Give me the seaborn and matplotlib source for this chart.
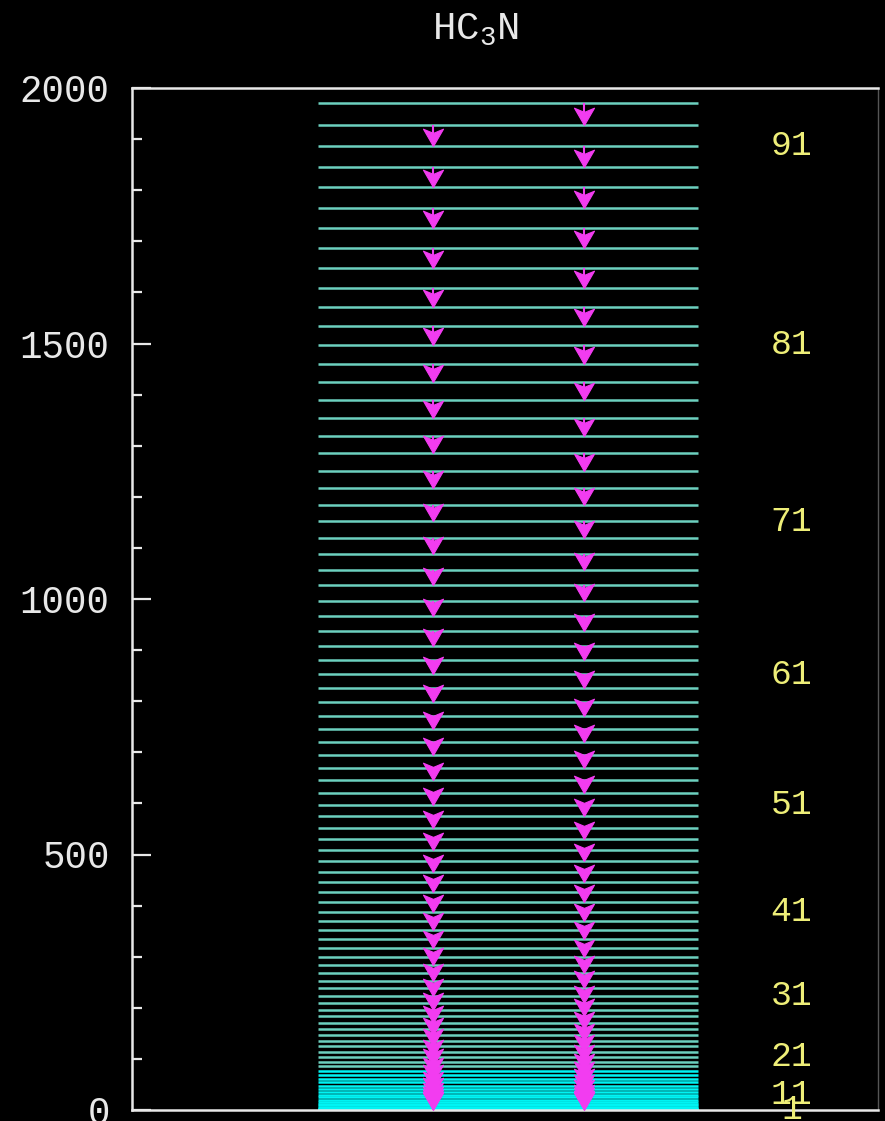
import numpy as np
import matplotlib
matplotlib.use("Agg")
import matplotlib.pyplot as plt
from matplotlib.path import Path
from matplotlib.ticker import MultipleLocator
import seaborn as sns

# Rotational ladder of HC3N: level energies for J = 0 .. 93
J_levels = list(range(0, 94))
E_levels = [
    0.00, 0.45, 1.35, 2.70, 4.51, 6.76, 9.47, 12.62, 16.23, 20.29,
    24.79, 29.75, 35.16, 41.02, 47.33, 54.10, 61.31, 68.97, 77.09, 85.65,
    94.67, 104.13, 114.05, 124.42, 135.24, 146.51, 158.23, 170.40, 183.02, 196.10,
    209.62, 223.60, 238.02, 252.90, 268.23, 284.00, 300.23, 316.91, 334.04, 351.62,
    369.66, 388.14, 407.07, 426.46, 446.29, 466.58, 487.31, 508.50, 530.14, 552.23,
    574.77, 597.76, 621.20, 645.09, 669.44, 694.23, 719.48, 745.17, 771.32, 797.92,
    824.96, 852.46, 880.41, 908.81, 937.66, 966.97, 996.72, 1026.92, 1057.58, 1088.68,
    1120.24, 1152.24, 1184.70, 1217.61, 1250.97, 1284.78, 1319.04, 1353.75, 1388.91, 1424.53,
    1460.59, 1497.11, 1534.07, 1571.49, 1609.36, 1647.67, 1686.44, 1725.66, 1765.33, 1805.45,
    1846.03, 1887.05, 1928.52, 1970.45,
]
labelled_J = [1, 11, 21, 31, 41, 51, 61, 71, 81, 91]
y_ticks = [0, 500, 1000, 1500, 2000]

# layout constants (axes fraction in x)
LEVEL_X0, LEVEL_X1 = 0.249, 0.759
COL_EVEN, COL_ODD = 0.4035, 0.606
LABEL_X = 0.884

CYAN_DENSE = "#00f4f4"
TEAL = "#6cd0bf"
MAGENTA = "#f23cf0"
YELLOW = "#eeee78"
WHITE = "#e8e8e8"

sns.set_style("dark")
plt.rcParams["font.family"] = ["Liberation Mono", "DejaVu Sans Mono"]
plt.rcParams["mathtext.fontset"] = "custom"
plt.rcParams["mathtext.rm"] = "Liberation Mono"
plt.rcParams["mathtext.it"] = "Liberation Mono"

fig = plt.figure(figsize=(8.85, 11.21), dpi=100, facecolor="black")
ax = fig.add_axes([132 / 885, 1 - 1110 / 1121, (878 - 132) / 885, (1110 - 88) / 1121])
ax.set_facecolor("black")
ax.grid(False)

# energy levels
for j, e in zip(J_levels, E_levels):
    ax.hlines(e, LEVEL_X0, LEVEL_X1, color=CYAN_DENSE if j <= 18 else TEAL,
              lw=1.8, zorder=2)

# downward transitions J -> J-1, alternating between two columns
tr_x, tr_top, tr_bot = [], [], []
for j in J_levels[1:]:
    tr_x.append(COL_ODD if j % 2 else COL_EVEN)
    tr_top.append(E_levels[j])
    tr_bot.append(E_levels[j - 1])

ax.vlines(tr_x, tr_bot, tr_top, color=MAGENTA, lw=1.5, zorder=3)

head = Path([(0, 0), (-0.55, 0.95), (0, 0.72), (0.55, 0.95), (0, 0)],
            [Path.MOVETO, Path.LINETO, Path.LINETO, Path.LINETO, Path.CLOSEPOLY])
sns.scatterplot(x=tr_x, y=tr_bot, marker=head, s=620, color=MAGENTA,
                edgecolor=MAGENTA, linewidth=0.8, ax=ax, zorder=4, legend=False)

# J labels
for j in labelled_J:
    ax.text(LABEL_X, E_levels[j], str(j), color=YELLOW, fontsize=25,
            ha="center", va="center", zorder=5)

ax.set_xlim(0, 1)
ax.set_ylim(0, 2000)
ax.set_xticks([])
ax.yaxis.set_major_locator(MultipleLocator(500))
ax.yaxis.set_minor_locator(MultipleLocator(100))
ax.set_yticks(y_ticks)
ax.set_yticklabels([str(v) for v in y_ticks])
ax.tick_params(axis="y", which="major", direction="in", length=14, width=1.6,
               color=WHITE, labelcolor=WHITE, labelsize=27, pad=16, left=True)
ax.tick_params(axis="y", which="minor", direction="in", length=7.5, width=1.6,
               color=WHITE, left=True)
for side in ("left", "top", "bottom"):
    ax.spines[side].set_color(WHITE)
    ax.spines[side].set_linewidth(1.8)
ax.spines["right"].set_color("#555555")
ax.spines["right"].set_linewidth(1.0)

fig.text(475 / 885, 1 - 30 / 1121, r"HC$_3$N", color=WHITE, fontsize=28,
         ha="center", va="center")

fig.savefig("out.png", dpi=100, facecolor="black")
